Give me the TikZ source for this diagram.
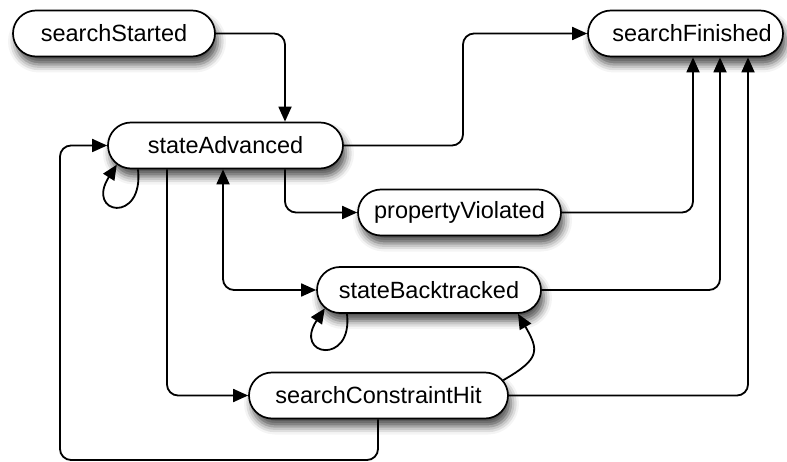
\documentclass[tikz,border=0pt]{standalone}
\usepackage{fontspec}
\setmainfont{Liberation Sans}
\usetikzlibrary{arrows.meta,shapes.misc,shadows.blur,calc}

\tikzset{
  tip/.style={-{Triangle[length=15pt,width=13pt]}},
  state/.style={rounded rectangle, draw=black, line width=1.7pt, fill=white,
    minimum height=46pt, inner sep=0pt,
    font=\fontsize{23.5}{28}\selectfont,
    blur shadow={shadow xshift=3pt, shadow yshift=-8pt, shadow blur radius=8pt,
      shadow opacity=70}},
  link/.style={draw=black, line width=1.8pt, rounded corners=11pt, tip},
  link2/.style={draw=black, line width=1.8pt, rounded corners=11pt,
    {Triangle[length=15pt,width=13pt]}-{Triangle[length=15pt,width=13pt]}},
  selfloop/.style={draw=black, line width=1.8pt, tip},
}

\begin{document}
\begin{tikzpicture}[x=1pt,y=1pt]
\useasboundingbox (0,0) rectangle (787,-462);

% states
\node[state, minimum width=202pt] (ss) at (114,-33.5) {searchStarted};
\node[state, minimum width=195pt] (sf) at (685.5,-33.5) {\hspace{13pt}searchFinished};
\node[state, minimum width=235pt] (sa) at (225.5,-145.5) {stateAdvanced\hspace{29pt}};
\node[state, minimum width=203pt] (pv) at (459.5,-212.5) {propertyViolated};
\node[state, minimum width=224pt] (sb) at (429,-290) {stateBacktracked};
\node[state, minimum width=259pt] (sch) at (378.5,-395.5) {searchConstraintHit};

% vertical tracks used by the connectors
\coordinate (x285) at (285,0);
\coordinate (x463) at (463,0);
\coordinate (x167) at (167,0);
\coordinate (x223) at (223,0);
\coordinate (x138) at (138,0);
\coordinate (x347) at (347,0);
\coordinate (x693) at (693,0);
\coordinate (x720) at (720,0);
\coordinate (x748) at (748,0);
\coordinate (x378) at (378,0);
\coordinate (loopR) at (378,-460);
\coordinate (loopL) at (60,-460);

% transitions
\draw[link] (ss.east) -| (sa.north -| x285);
\draw[link] (sa.east) -- (x463 |- sa.east) -- (x463 |- sf.west) -- (sf.west);
\draw[link] (sa.south -| x167) |- (sch.west);
\draw[link2] (sa.south -| x223) |- (sb.west);
\draw[link] (sa.south -| x285) |- (pv.west);
\draw[link] (pv.east) -| (sf.south -| x693);
\draw[link] (sb.east) -| (sf.south -| x720);
\draw[link] (sch.east) -| (sf.south -| x748);
\draw[link] (sch.south -| x378) -- (loopR) -- (loopL) |- (sa.west);
\draw[selfloop] (sch.7) to[out=30,in=-60,looseness=1.6] (sb.-15);

% self loops
\draw[selfloop] (sa.south -| x138) .. controls +(6,-55) and +(-32,-50) .. (sa.190);
\draw[selfloop] (sb.south -| x347) .. controls +(6,-52) and +(-32,-48) .. (sb.190);
\end{tikzpicture}
\end{document}
